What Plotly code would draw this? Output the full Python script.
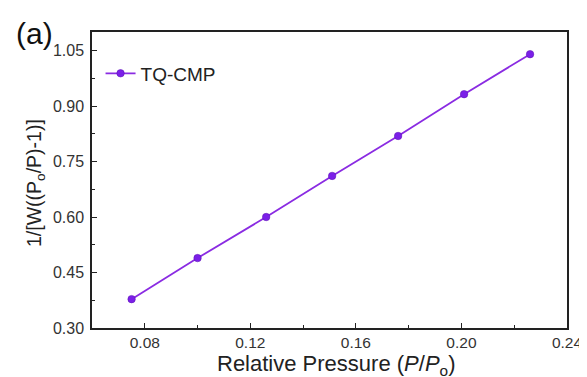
import plotly.graph_objects as go

rel_pressure = [0.075, 0.100, 0.126, 0.151, 0.176, 0.201, 0.226]
bet_values = [0.378, 0.489, 0.600, 0.711, 0.819, 0.932, 1.040]
series_name = "TQ-CMP"

x_ticks = [0.08, 0.12, 0.16, 0.20, 0.24]
y_ticks = [0.30, 0.45, 0.60, 0.75, 0.90, 1.05]

font = "Liberation Sans, Arial, sans-serif"
W, H = 587, 377
OFF = 8  # page body margin
L, R, T, B = 92 - OFF, 28, 32 - OFF, 57

fig = go.Figure()
fig.add_trace(go.Scatter(
    x=rel_pressure, y=bet_values, name=series_name, mode="lines+markers",
    line=dict(color="#8A2BE2", width=1.8),
    marker=dict(color="#7B1FE8", size=7.5, line=dict(color="#5A10B0", width=0.5)),
))

fig.update_layout(
    width=W, height=H,
    margin=dict(l=L, r=R, t=T, b=B, autoexpand=False),
    paper_bgcolor="white", plot_bgcolor="white",
    font=dict(family=font, color="#222"),
    showlegend=True,
    legend=dict(x=0.018, y=0.86, xanchor="left", yanchor="middle",
                bgcolor="rgba(0,0,0,0)", font=dict(size=19, family=font, color="#222"),
                itemwidth=30),
)

fig.update_xaxes(
    range=[0.06, 0.24], tickvals=x_ticks, ticktext=[f"{v:.2f}" for v in x_ticks],
    ticks="inside", ticklen=5, tickwidth=1.2, tickcolor="#222",
    minor=dict(ticks="inside", ticklen=3, tickwidth=1, tickcolor="#222", dtick=0.02, tick0=0.06),
    showline=True, linecolor="#222", linewidth=1.5, mirror=True, showgrid=False, zeroline=False,
    tickfont=dict(size=15.5, family=font, color="#333"), automargin=False,
)
fig.update_yaxes(
    range=[0.30, 1.10], tickvals=y_ticks, ticktext=[f"{v:.2f}" for v in y_ticks],
    ticks="inside", ticklen=5, tickwidth=1.2, tickcolor="#222",
    minor=dict(ticks="inside", ticklen=3, tickwidth=1, tickcolor="#222", dtick=0.075, tick0=0.30),
    showline=True, linecolor="#222", linewidth=1.5, mirror=True, showgrid=False, zeroline=False,
    tickfont=dict(size=16, family=font, color="#333"), automargin=False,
    ticklabelstandoff=3,
)

pw, ph = W - L - R, H - T - B

def px_x(x):
    return (x - OFF - L) / pw

def px_y(y):
    return (H - B - (y - OFF)) / ph

fig.add_annotation(text="Relative Pressure (<i>P</i>/<i>P</i><sub>o</sub>)",
                   xref="paper", yref="paper", x=px_x(336), y=px_y(365),
                   xanchor="center", yanchor="middle", showarrow=False,
                   font=dict(size=22, family=font, color="#222"))
fig.add_annotation(text="1/[W((P<sub>o</sub>/P)-1)]", textangle=-90,
                   xref="paper", yref="paper", x=px_x(35), y=px_y(183),
                   xanchor="center", yanchor="middle", showarrow=False,
                   font=dict(size=19.5, family=font, color="#222"))
fig.add_annotation(text="(a)", xref="paper", yref="paper", x=px_x(34), y=px_y(33),
                   xanchor="center", yanchor="middle", showarrow=False,
                   font=dict(size=30, family=font, color="#111"))

fig.write_html("out.html")
